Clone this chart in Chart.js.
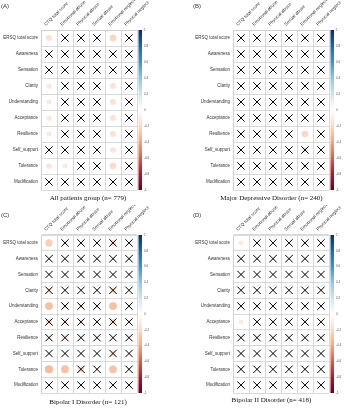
<!DOCTYPE html>
<html><head><meta charset="utf-8">
<script src="https://cdn.jsdelivr.net/npm/chart.js@4"></script>
<style>
html,body{margin:0;padding:0;background:#fff;}
#wrap{position:relative;width:350px;height:410px;overflow:hidden;background:#fff}
.p{position:absolute;}
canvas{display:block}
</style></head><body>
<div id="wrap">
<div class="p" style="left:0;top:0"><canvas id="cA" width="175" height="205"></canvas></div>
<div class="p" style="left:175px;top:0"><canvas id="cB" width="175" height="205"></canvas></div>
<div class="p" style="left:0;top:205px"><canvas id="cC" width="175" height="205"></canvas></div>
<div class="p" style="left:175px;top:205px"><canvas id="cD" width="175" height="205"></canvas></div>
</div>
<script>
// ---- labels ----
const rowLabels = ['ERSQ total score','Awareness','Sensation','Clarity','Understanding','Acceptance','Resilience','Self_support','Tolerance','Modification'];
const colLabels = ['CTQ total score','Emotional abuse','Physical abuse','Sexual abuse','Emotional neglect','Physical neglect'];
const colorbarTicks = [1,0.8,0.6,0.4,0.2,0,-0.2,-0.4,-0.6,-0.8,-1];
const panelLetters = ['(A)','(B)','(C)','(D)'];
const panelTitles = ['All patients group (n= 779)','Major Depressive Disorder (n= 240)','Bipolar I Disorder (n= 121)','Bipolar II Disorder (n= 418)'];

// ---- correlation estimates (rows x columns) ----
const corrA = [
 [-0.17,-0.06,-0.03,-0.02,-0.22,-0.05],
 [-0.04,-0.03, 0.01, 0.02,-0.05, 0.01],
 [-0.03,-0.02, 0.02, 0.01,-0.05, 0.02],
 [-0.13,-0.06,-0.03,-0.02,-0.16,-0.05],
 [-0.12,-0.06,-0.04,-0.03,-0.17,-0.05],
 [-0.13,-0.07,-0.04,-0.03,-0.16,-0.05],
 [-0.12,-0.07,-0.04,-0.02,-0.17,-0.04],
 [-0.08,-0.05,-0.03,-0.02,-0.15,-0.04],
 [-0.15,-0.12,-0.05,-0.03,-0.20,-0.05],
 [-0.05,-0.03,-0.02,-0.01,-0.05,-0.02]
];
const sigA = [
 [1,0,0,0,1,0],[0,0,0,0,0,0],[0,0,0,0,0,0],[1,0,0,0,1,0],[1,0,0,0,1,0],
 [1,0,0,0,1,0],[1,0,0,0,1,0],[0,0,0,0,1,0],[1,1,0,0,1,0],[0,0,0,0,0,0]
];
const corrB = [
 [-0.06,-0.05,-0.03,-0.04,-0.12,-0.05],
 [-0.03,-0.02, 0.02, 0.01,-0.04, 0.02],
 [-0.03,-0.02, 0.01, 0.02,-0.04, 0.01],
 [-0.05,-0.04,-0.03,-0.02,-0.06,-0.03],
 [-0.05,-0.04,-0.03,-0.03,-0.07,-0.04],
 [-0.06,-0.05,-0.04,-0.03,-0.10,-0.04],
 [-0.06,-0.05,-0.04,-0.04,-0.21,-0.05],
 [-0.05,-0.04,-0.03,-0.03,-0.15,-0.04],
 [-0.06,-0.05,-0.03,-0.03,-0.13,-0.04],
 [-0.03,-0.02,-0.02,-0.01,-0.04,-0.02]
];
const sigB = [
 [0,0,0,0,0,0],[0,0,0,0,0,0],[0,0,0,0,0,0],[0,0,0,0,0,0],[0,0,0,0,0,0],
 [0,0,0,0,0,0],[0,0,0,0,1,0],[0,0,0,0,0,0],[0,0,0,0,0,0],[0,0,0,0,0,0]
];
const corrC = [
 [-0.25,-0.08,-0.06,-0.03,-0.17,-0.05],
 [-0.05,-0.04, 0.02, 0.03,-0.06, 0.02],
 [-0.04,-0.03, 0.02, 0.03,-0.05, 0.02],
 [-0.15,-0.04,-0.05,-0.02,-0.18,-0.04],
 [-0.30,-0.08,-0.13,-0.04,-0.30,-0.05],
 [-0.17,-0.13,-0.12,-0.05,-0.17,-0.06],
 [-0.10,-0.12,-0.07,-0.04,-0.08,-0.05],
 [-0.08,-0.06,-0.05,-0.03,-0.16,-0.04],
 [-0.32,-0.30,-0.17,-0.05,-0.29,-0.06],
 [-0.04,-0.03,-0.03,-0.02,-0.05,-0.03]
];
const sigC = [
 [1,0,0,0,0,0],[0,0,0,0,0,0],[0,0,0,0,0,0],[0,0,0,0,0,0],[1,0,0,0,1,0],
 [0,0,0,0,0,0],[0,0,0,0,0,0],[0,0,0,0,0,0],[1,1,0,0,1,0],[0,0,0,0,0,0]
];
const corrD = [
 [-0.12,-0.05,-0.03,-0.03,-0.09,-0.05],
 [-0.03,-0.02, 0.01, 0.02,-0.03, 0.01],
 [-0.03,-0.02, 0.01, 0.01,-0.03, 0.02],
 [-0.05,-0.03,-0.02,-0.02,-0.05,-0.08],
 [-0.05,-0.04,-0.03,-0.02,-0.05,-0.04],
 [-0.11,-0.05,-0.03,-0.02,-0.06,-0.04],
 [-0.05,-0.04,-0.03,-0.02,-0.05,-0.03],
 [-0.04,-0.03,-0.02,-0.02,-0.05,-0.03],
 [-0.06,-0.04,-0.03,-0.02,-0.06,-0.04],
 [-0.03,-0.02,-0.02,-0.01,-0.03,-0.02]
];
const sigD = [
 [1,0,0,0,0,0],[0,0,0,0,0,0],[0,0,0,0,0,0],[0,0,0,0,0,0],[0,0,0,0,0,0],
 [1,0,0,0,0,0],[0,0,0,0,0,0],[0,0,0,0,0,0],[0,0,0,0,0,0],[0,0,0,0,0,0]
];

// RdBu palette from -1 to +1
const RDBU = ['#67001F','#B2182B','#D6604D','#F4A582','#FDDBC7','#FFFFFF','#D1E5F0','#92C5DE','#4393C3','#2166AC','#053061'];
function hex2rgb(h){return [parseInt(h.substr(1,2),16),parseInt(h.substr(3,2),16),parseInt(h.substr(5,2),16)];}
function corrColor(v){
  const t=(Math.max(-1,Math.min(1,v))+1)/2*10;
  const i=Math.min(9,Math.floor(t)); const f=t-i;
  const a=hex2rgb(RDBU[i]), b=hex2rgb(RDBU[i+1]);
  const c=a.map((x,k)=>Math.round(x+(b[k]-x)*f));
  return 'rgb('+c.join(',')+')';
}

const colorbarPlugin = {
  id:'colorbar',
  beforeDatasetsDraw(chart){
    const ctx=chart.ctx, s=chart.scales.cb, a=chart.chartArea;
    const g=ctx.createLinearGradient(0,s.top,0,s.bottom);
    for(let i=0;i<RDBU.length;i++) g.addColorStop(i/(RDBU.length-1), RDBU[RDBU.length-1-i]);
    ctx.save(); ctx.fillStyle=g; ctx.fillRect(a.right+1.5, s.top, 3.5, s.bottom-s.top); ctx.restore();
  }
};
// let tick labels extend outside their own axis box
function noLabelClip(s){ s._computeLabelArea = () => undefined; }

const FONT='"Liberation Sans", Arial, sans-serif';
function makePanel(id, idx, corr, sig, L){
  const circles=[], crosses=[];
  corr.forEach((row,i)=>row.forEach((v,j)=>{
    circles.push({x:colLabels[j], y:rowLabels[i], v:v});
    if(!sig[i][j]) crosses.push({x:colLabels[j], y:rowLabels[i], v:v});
  }));
  const titleH = L.tPad + 6*1.2;
  new Chart(document.getElementById(id), {
    type:'scatter',
    data:{datasets:[
      {data:crosses, pointStyle:'crossRot', pointRadius:5.2, pointBorderColor:'#000', pointBorderWidth:1, pointBackgroundColor:'rgba(0,0,0,0)'},
      {data:circles, pointStyle:'circle', pointBorderWidth:0,
        pointRadius:(c)=>{const s=c.chart.scales.x; const w=(s.right-s.left)/colLabels.length; return c.raw?0.45*Math.sqrt(Math.abs(c.raw.v))*w:0;},
        pointBackgroundColor:(c)=>c.raw?corrColor(c.raw.v):'#fff'}
    ]},
    options:{
      responsive:false, animation:false, devicePixelRatio:1,
      events:[],
      layout:{padding:{left:L.pl,right:0,top:0,bottom:0}},
      plugins:{
        legend:{display:false}, tooltip:{enabled:false},
        title:{display:true, text:panelLetters[idx], align:'start', position:'top', color:'#333',
          font:{family:FONT,size:6,weight:'normal'}, padding:{top:L.tPad,bottom:0}},
        subtitle:{display:true, text:panelTitles[idx], position:'bottom', color:'#111',
          font:{family:'"Liberation Serif","Times New Roman",serif',size:7,weight:'normal'}, padding:{top:L.sTop,bottom:L.sBot}}
      },
      scales:{
        x:{type:'category', labels:colLabels, position:'top', offset:true,
          grid:{offset:true, color:'#cfcfcf', drawTicks:false, lineWidth:0.8},
          border:{color:'#cfcfcf', width:0.8},
          ticks:{autoSkip:false, minRotation:45, maxRotation:45, padding:3, color:'#333', font:{family:FONT,size:4.5}},
          afterFit:(s)=>{s.height = L.gridTop - titleH; noLabelClip(s);}},
        y:{type:'category', labels:rowLabels, position:'left', offset:true,
          grid:{offset:true, color:'#cfcfcf', drawTicks:false, lineWidth:0.8},
          border:{color:'#cfcfcf', width:0.8},
          ticks:{autoSkip:false, padding:3, color:'#333', font:{family:FONT,size:4.5}},
          afterFit:(s)=>{s.width = L.yW; noLabelClip(s);}},
        cb:{type:'linear', position:'right', min:-1, max:1, axis:'y',
          grid:{display:false, drawTicks:false}, border:{display:false},
          afterBuildTicks:(s)=>{s.ticks = colorbarTicks.map(v=>({value:v}));},
          ticks:{padding:7, color:'#555', font:{family:FONT,size:3}, callback:(v)=>String(v)},
          afterFit:(s)=>{s.width = L.cbW; noLabelClip(s);}}
      }
    },
    plugins:[colorbarPlugin]
  });
}
makePanel('cA',0,corrA,sigA,{pl:1,yW:40,cbW:38,tPad:3,gridTop:30,sTop:4,sBot:2.6});
makePanel('cB',1,corrB,sigB,{pl:18,yW:40,cbW:21,tPad:3,gridTop:30,sTop:4,sBot:2.6});
makePanel('cC',2,corrC,sigC,{pl:1,yW:40,cbW:38,tPad:7,gridTop:30,sTop:4.8,sBot:3.8});
makePanel('cD',3,corrD,sigD,{pl:18,yW:40,cbW:21,tPad:7,gridTop:30,sTop:2.8,sBot:5.8});
</script>
</body></html>
